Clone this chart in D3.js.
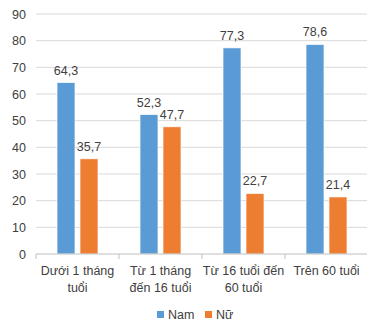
<!DOCTYPE html>
<html>
<head>
<meta charset="utf-8">
<script src="https://cdn.jsdelivr.net/npm/d3@7"></script>
<style>
  html, body { margin: 0; padding: 0; background: #fff; }
  svg text { font-family: "Liberation Sans", Arial, sans-serif; fill: #404040; }
</style>
</head>
<body>
<svg id="chart" width="367" height="325"></svg>
<script>
// Age groups and share by sex (%)
const categories = [
  ["Dưới 1 tháng", "tuổi"],
  ["Từ 1 tháng", "đến 16 tuổi"],
  ["Từ 16 tuổi đến", "60 tuổi"],
  ["Trên 60 tuổi"]
];
const seriesNames = ["Nam", "Nữ"];
const namValues = [64.3, 52.3, 77.3, 78.6];
const nuValues = [35.7, 47.7, 22.7, 21.4];
const yTicks = [0, 10, 20, 30, 40, 50, 60, 70, 80, 90];
const colors = ["#5B9BD5", "#ED7D31"];

const svg = d3.select("#chart");
const margin = { left: 36, right: 0, top: 14, bottom: 71 };
const W = 367, H = 325;
const plotW = 332, plotH = H - margin.top - margin.bottom;
const pairW = 41;

const x = d3.scaleBand().domain(d3.range(categories.length))
  .range([margin.left, margin.left + plotW]);
const sub = d3.scaleBand().domain(seriesNames).range([0, pairW]).paddingInner(0.217);
const y = d3.scaleLinear().domain([0, 90]).range([margin.top + plotH, margin.top]);

// gridlines
svg.append("g").selectAll("line").data(yTicks.filter(d => d > 0)).join("line")
  .attr("x1", margin.left).attr("x2", margin.left + plotW)
  .attr("y1", d => y(d)).attr("y2", d => y(d))
  .attr("stroke", "#d9d9d9").attr("stroke-width", 1);

// y axis labels
const yAxis = d3.axisLeft(y).tickValues(yTicks).tickSize(0).tickPadding(10);
const yg = svg.append("g").attr("transform", `translate(${margin.left},0)`).call(yAxis);
yg.select(".domain").remove();
yg.selectAll("text").attr("font-size", 12.5).style("fill", "#404040")
  .attr("font-family", "Liberation Sans, Arial, sans-serif");

// bars
const data = categories.map((c, i) => ({ i, vals: [namValues[i], nuValues[i]] }));
const groups = svg.append("g").selectAll("g").data(data).join("g")
  .attr("transform", d => `translate(${x(d.i) + (x.bandwidth() - pairW) / 2},0)`);
groups.selectAll("rect").data(d => d.vals.map((v, k) => ({ v, k }))).join("rect")
  .attr("x", d => sub(seriesNames[d.k]))
  .attr("width", sub.bandwidth())
  .attr("y", d => y(d.v))
  .attr("height", d => y(0) - y(d.v))
  .attr("fill", d => colors[d.k])
  .attr("stroke", "#fff").attr("stroke-width", 0.7);
groups.selectAll("text.val").data(d => d.vals.map((v, k) => ({ v, k }))).join("text")
  .attr("class", "val")
  .attr("x", d => sub(seriesNames[d.k]) + sub.bandwidth() / 2)
  .attr("y", d => y(d.v) - 8)
  .attr("text-anchor", "middle").attr("font-size", 12.5)
  .text(d => d.v.toFixed(1).replace(".", ","));

// x axis baseline and category separators
const base = y(0);
svg.append("line").attr("x1", margin.left).attr("x2", margin.left + plotW)
  .attr("y1", base).attr("y2", base).attr("stroke", "#bfbfbf");
svg.append("g").selectAll("line").data(d3.range(categories.length + 1)).join("line")
  .attr("x1", i => i < categories.length ? x(i) : x(i - 1) + x.bandwidth())
  .attr("x2", i => i < categories.length ? x(i) : x(i - 1) + x.bandwidth())
  .attr("y1", base).attr("y2", base + 5).attr("stroke", "#bfbfbf");

// category labels
svg.append("g").selectAll("text").data(categories).join("text")
  .attr("x", (d, i) => x(i) + x.bandwidth() / 2)
  .attr("y", 275)
  .attr("text-anchor", "middle").attr("font-size", 12.5)
  .each(function(lines) {
    d3.select(this).selectAll("tspan").data(lines).join("tspan")
      .attr("x", d3.select(this).attr("x"))
      .attr("dy", (d, j) => j === 0 ? 0 : 17)
      .text(d => d);
  });

// legend
const legend = svg.append("g").attr("transform", "translate(157,311)");
const items = [{ n: "Nam", c: colors[0], dx: 0 }, { n: "Nữ", c: colors[1], dx: 48 }];
items.forEach(it => {
  legend.append("rect").attr("x", it.dx).attr("y", 0).attr("width", 7).attr("height", 7).attr("fill", it.c);
  legend.append("text").attr("x", it.dx + 11).attr("y", 8).attr("font-size", 12.5).text(it.n);
});
</script>
</body>
</html>
